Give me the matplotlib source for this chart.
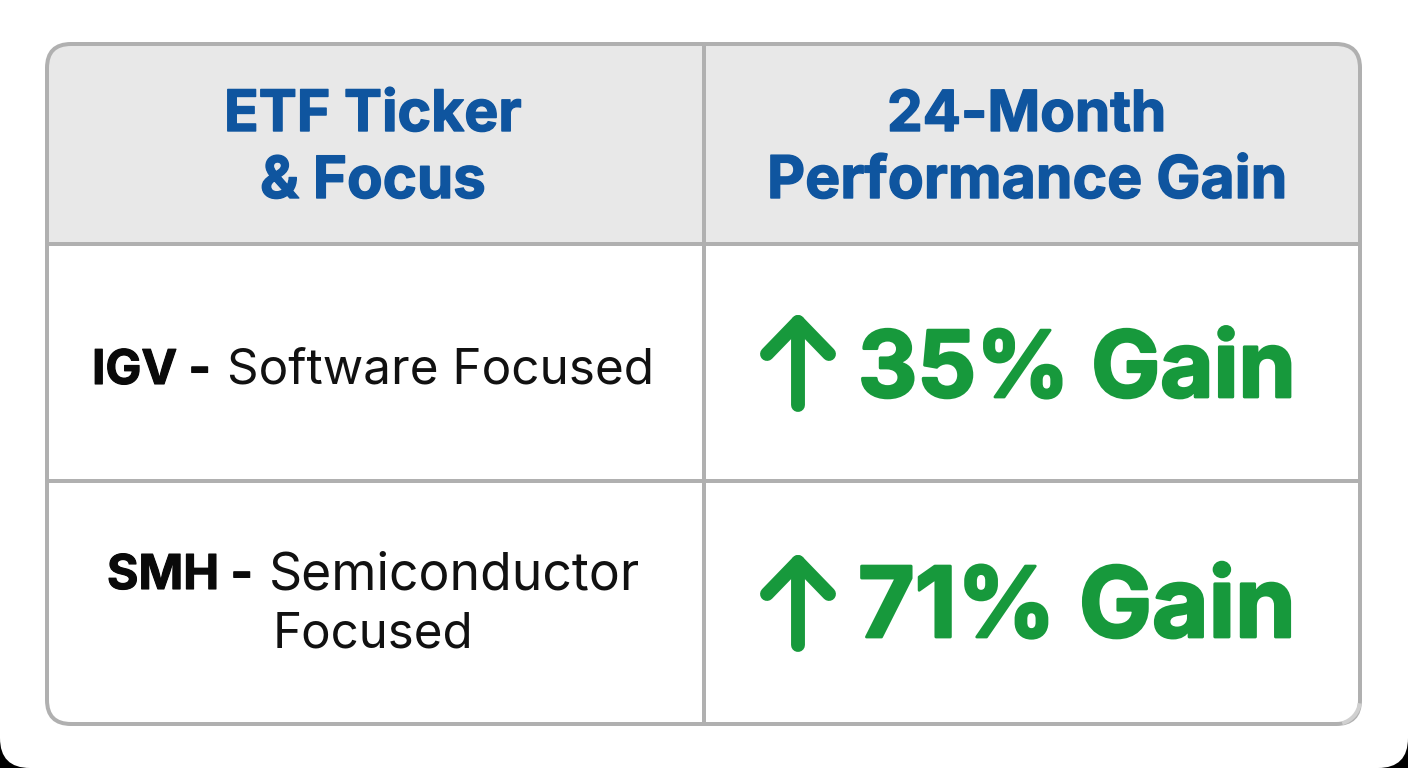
"""
Comparison table: ETF ticker and focus vs 24-month performance gain.
"""

import matplotlib
matplotlib.use('Agg')
import matplotlib.pyplot as plt
import matplotlib.patheffects as pe
from matplotlib.patches import Arc, FancyBboxPatch, Rectangle

FONT = 'Inter'
BLUE = '#0f559f'
GREEN = '#17993c'
GRID = '#b0b0b0'
HEADER = '#e8e8e8'

headers = [['ETF Ticker', '& Focus'], ['24-Month', 'Performance Gain']]
tickers = ['IGV -', 'SMH -']
focus_lines = [['Software Focused'], ['Semiconductor', 'Focused']]
gains = [35, 71]

LEFT, RIGHT, TOP, BOTTOM = 47, 1360, 44, 724
COL_X = 704
ROW_Y = [244, 481]
LW = 4 * 72 / 100


def fit_text(ax, x0, x1, baseline, s, size, weight, color, stroke=0):
    """Draw text from x0 and squeeze the font size so it ends at x1."""
    t = ax.text(x0, baseline, s, fontsize=size, fontweight=weight, color=color,
                family=FONT, ha='left', va='baseline', zorder=6)
    w = t.get_window_extent(ax.figure.canvas.get_renderer()).width
    t.set_fontsize(size * (x1 - x0) / w)
    if stroke:
        # reference lettering is heavier than Inter Bold
        t.set_path_effects([pe.withStroke(linewidth=stroke, foreground=color)])
    return t


fig = plt.figure(figsize=(14.08, 7.68), dpi=100, facecolor='black')
ax = fig.add_axes([0, 0, 1, 1])
ax.set_xlim(0, 1408)
ax.set_ylim(768, 0)
ax.axis('off')

# page with rounded bottom corners on black
ax.add_patch(FancyBboxPatch((0, -100), 1408, 868, boxstyle='round,pad=0,rounding_size=30',
                            fc='white', ec='none', zorder=0))

# table body, header band clipped to the rounded frame
frame = FancyBboxPatch((LEFT, TOP), RIGHT - LEFT, BOTTOM - TOP,
                       boxstyle='round,pad=0,rounding_size=24',
                       fc='white', ec='none', zorder=1)
ax.add_patch(frame)
band = Rectangle((LEFT, TOP), RIGHT - LEFT, ROW_Y[0] - TOP, fc=HEADER, ec='none', zorder=2)
ax.add_patch(band)
band.set_clip_path(frame)

ax.plot([COL_X, COL_X], [TOP, BOTTOM], color=GRID, lw=LW, zorder=3, solid_capstyle='butt')
for y in ROW_Y:
    ax.plot([LEFT, RIGHT], [y, y], color=GRID, lw=LW, zorder=3, solid_capstyle='butt')
ax.add_patch(FancyBboxPatch((LEFT, TOP), RIGHT - LEFT, BOTTOM - TOP,
                            boxstyle='round,pad=0,rounding_size=24',
                            fc='none', ec=GRID, lw=LW, zorder=4))
# bottom right corner of the frame is paler
ax.add_patch(Arc((RIGHT - 24, BOTTOM - 24), 48, 48, theta1=8, theta2=75,
                 color='#d0d0d0', lw=LW, zorder=5))

# header text
header_pos = [[(224, 522, 131), (260, 486, 198)], [(887, 1166, 131), (767, 1287, 198)]]
for lines, pos in zip(headers, header_pos):
    for s, (x0, x1, base) in zip(lines, pos):
        fit_text(ax, x0, x1, base, s, 39, 'bold', BLUE, stroke=1.0)

# first column
ticker_pos = [(92, 211, 384), (107, 253, 589)]
focus_pos = [[(227, 654, 384)], [(269, 640, 589), (273, 474, 648)]]
for s, (x0, x1, base) in zip(tickers, ticker_pos):
    fit_text(ax, x0, x1, base, s, 33, 'bold', '#0a0a0a', stroke=0.8)
for lines, pos in zip(focus_lines, focus_pos):
    for s, (x0, x1, base) in zip(lines, pos):
        fit_text(ax, x0, x1, base, s, 33, 'normal', '#111111')

# gain cells with arrows
for gain, y_off in zip(gains, [0, 240]):
    fit_text(ax, 858, 1296, 397 + y_off, f'{gain}% Gain', 66, 'bold', GREEN, stroke=2.0)
    ax.plot([798, 798], [405 + y_off, 322 + y_off], color=GREEN, lw=10,
            solid_capstyle='round', zorder=5)
    ax.plot([767, 798, 829], [354 + y_off, 322 + y_off, 354 + y_off], color=GREEN, lw=10,
            solid_capstyle='round', solid_joinstyle='round', zorder=5)

fig.savefig('out.png', dpi=100, facecolor='black')
plt.close()
